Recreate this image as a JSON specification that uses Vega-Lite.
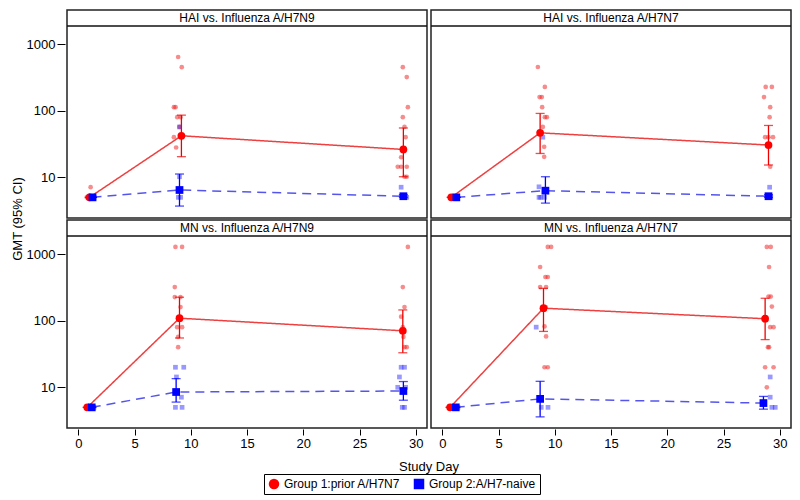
{
  "$schema": "https://vega.github.io/schema/vega-lite/v6.json",
  "padding": {"left": 11, "top": 9, "right": 5, "bottom": 5},
  "background": "white",
  "data": {"values": [
    {"assay":"HAI","strain":"H7N9","kind":"title","label":"HAI vs. Influenza A/H7N9"},
    {"assay":"HAI","strain":"H7N7","kind":"title","label":"HAI vs. Influenza A/H7N7"},
    {"assay":"MN","strain":"H7N9","kind":"title","label":"MN vs. Influenza A/H7N9"},
    {"assay":"MN","strain":"H7N7","kind":"title","label":"MN vs. Influenza A/H7N7"},

    {"assay":"HAI","strain":"H7N9","kind":"gmt","group":"Group 1:prior A/H7N7","day":1.0,"value":5,"lo":5,"hi":5},
    {"assay":"HAI","strain":"H7N9","kind":"gmt","group":"Group 1:prior A/H7N7","day":9.17,"value":42,"lo":20.4,"hi":85.7},
    {"assay":"HAI","strain":"H7N9","kind":"gmt","group":"Group 1:prior A/H7N7","day":28.9,"value":26.2,"lo":10.2,"hi":55},
    {"assay":"HAI","strain":"H7N9","kind":"gmt","group":"Group 2:A/H7-naive","day":1.27,"value":5,"lo":5,"hi":5},
    {"assay":"HAI","strain":"H7N9","kind":"gmt","group":"Group 2:A/H7-naive","day":9.0,"value":6.45,"lo":3.7,"hi":11.2},
    {"assay":"HAI","strain":"H7N9","kind":"gmt","group":"Group 2:A/H7-naive","day":28.9,"value":5.2,"lo":5,"hi":5.5},

    {"assay":"HAI","strain":"H7N7","kind":"gmt","group":"Group 1:prior A/H7N7","day":0.8,"value":5,"lo":5,"hi":5},
    {"assay":"HAI","strain":"H7N7","kind":"gmt","group":"Group 1:prior A/H7N7","day":8.7,"value":46.5,"lo":22.8,"hi":91},
    {"assay":"HAI","strain":"H7N7","kind":"gmt","group":"Group 1:prior A/H7N7","day":29.0,"value":30.5,"lo":15.3,"hi":60},
    {"assay":"HAI","strain":"H7N7","kind":"gmt","group":"Group 2:A/H7-naive","day":1.25,"value":5,"lo":5,"hi":5},
    {"assay":"HAI","strain":"H7N7","kind":"gmt","group":"Group 2:A/H7-naive","day":9.17,"value":6.3,"lo":4.1,"hi":10.2},
    {"assay":"HAI","strain":"H7N7","kind":"gmt","group":"Group 2:A/H7-naive","day":29.0,"value":5.2,"lo":5,"hi":5.5},

    {"assay":"MN","strain":"H7N9","kind":"gmt","group":"Group 1:prior A/H7N7","day":0.8,"value":5,"lo":5,"hi":5},
    {"assay":"MN","strain":"H7N9","kind":"gmt","group":"Group 1:prior A/H7N7","day":9.0,"value":109,"lo":55,"hi":225},
    {"assay":"MN","strain":"H7N9","kind":"gmt","group":"Group 1:prior A/H7N7","day":28.85,"value":70.5,"lo":33,"hi":145},
    {"assay":"MN","strain":"H7N9","kind":"gmt","group":"Group 2:A/H7-naive","day":1.2,"value":5,"lo":5,"hi":5},
    {"assay":"MN","strain":"H7N9","kind":"gmt","group":"Group 2:A/H7-naive","day":8.7,"value":8.5,"lo":6.0,"hi":13.5},
    {"assay":"MN","strain":"H7N9","kind":"gmt","group":"Group 2:A/H7-naive","day":28.9,"value":8.8,"lo":6.4,"hi":12.2},

    {"assay":"MN","strain":"H7N7","kind":"gmt","group":"Group 1:prior A/H7N7","day":0.7,"value":5,"lo":5,"hi":5},
    {"assay":"MN","strain":"H7N7","kind":"gmt","group":"Group 1:prior A/H7N7","day":9.0,"value":154,"lo":69,"hi":306},
    {"assay":"MN","strain":"H7N7","kind":"gmt","group":"Group 1:prior A/H7N7","day":28.7,"value":107,"lo":52,"hi":217},
    {"assay":"MN","strain":"H7N7","kind":"gmt","group":"Group 2:A/H7-naive","day":1.2,"value":5,"lo":5,"hi":5},
    {"assay":"MN","strain":"H7N7","kind":"gmt","group":"Group 2:A/H7-naive","day":8.7,"value":6.7,"lo":3.6,"hi":12.3},
    {"assay":"MN","strain":"H7N7","kind":"gmt","group":"Group 2:A/H7-naive","day":28.55,"value":5.8,"lo":4.7,"hi":7.3},

    {"assay":"HAI","strain":"H7N9","kind":"ind","group":"Group 1:prior A/H7N7","day":0.75,"value":5},
    {"assay":"HAI","strain":"H7N9","kind":"ind","group":"Group 1:prior A/H7N7","day":1.1,"value":7.1},
    {"assay":"HAI","strain":"H7N9","kind":"ind","group":"Group 1:prior A/H7N7","day":8.88,"value":640},
    {"assay":"HAI","strain":"H7N9","kind":"ind","group":"Group 1:prior A/H7N7","day":9.2,"value":450},
    {"assay":"HAI","strain":"H7N9","kind":"ind","group":"Group 1:prior A/H7N7","day":8.5,"value":113},
    {"assay":"HAI","strain":"H7N9","kind":"ind","group":"Group 1:prior A/H7N7","day":8.65,"value":113},
    {"assay":"HAI","strain":"H7N9","kind":"ind","group":"Group 1:prior A/H7N7","day":8.8,"value":80},
    {"assay":"HAI","strain":"H7N9","kind":"ind","group":"Group 1:prior A/H7N7","day":9.1,"value":80},
    {"assay":"HAI","strain":"H7N9","kind":"ind","group":"Group 1:prior A/H7N7","day":9.0,"value":57},
    {"assay":"HAI","strain":"H7N9","kind":"ind","group":"Group 1:prior A/H7N7","day":8.5,"value":40},
    {"assay":"HAI","strain":"H7N9","kind":"ind","group":"Group 1:prior A/H7N7","day":8.7,"value":28},
    {"assay":"HAI","strain":"H7N9","kind":"ind","group":"Group 1:prior A/H7N7","day":28.85,"value":450},
    {"assay":"HAI","strain":"H7N9","kind":"ind","group":"Group 1:prior A/H7N7","day":29.2,"value":320},
    {"assay":"HAI","strain":"H7N9","kind":"ind","group":"Group 1:prior A/H7N7","day":29.3,"value":113},
    {"assay":"HAI","strain":"H7N9","kind":"ind","group":"Group 1:prior A/H7N7","day":28.85,"value":80},
    {"assay":"HAI","strain":"H7N9","kind":"ind","group":"Group 1:prior A/H7N7","day":29.0,"value":57},
    {"assay":"HAI","strain":"H7N9","kind":"ind","group":"Group 1:prior A/H7N7","day":29.1,"value":40},
    {"assay":"HAI","strain":"H7N9","kind":"ind","group":"Group 1:prior A/H7N7","day":28.7,"value":20},
    {"assay":"HAI","strain":"H7N9","kind":"ind","group":"Group 1:prior A/H7N7","day":28.4,"value":14.4},
    {"assay":"HAI","strain":"H7N9","kind":"ind","group":"Group 1:prior A/H7N7","day":28.7,"value":14.4},
    {"assay":"HAI","strain":"H7N9","kind":"ind","group":"Group 1:prior A/H7N7","day":29.2,"value":14.4},
    {"assay":"HAI","strain":"H7N9","kind":"ind","group":"Group 1:prior A/H7N7","day":29.0,"value":10.2},
    {"assay":"HAI","strain":"H7N9","kind":"ind","group":"Group 1:prior A/H7N7","day":29.2,"value":10.2},
    {"assay":"HAI","strain":"H7N9","kind":"ind","group":"Group 2:A/H7-naive","day":1.0,"value":5},
    {"assay":"HAI","strain":"H7N9","kind":"ind","group":"Group 2:A/H7-naive","day":1.4,"value":5},
    {"assay":"HAI","strain":"H7N9","kind":"ind","group":"Group 2:A/H7-naive","day":8.9,"value":5},
    {"assay":"HAI","strain":"H7N9","kind":"ind","group":"Group 2:A/H7-naive","day":9.1,"value":5},
    {"assay":"HAI","strain":"H7N9","kind":"ind","group":"Group 2:A/H7-naive","day":9.0,"value":10.2},
    {"assay":"HAI","strain":"H7N9","kind":"ind","group":"Group 2:A/H7-naive","day":9.0,"value":57},
    {"assay":"HAI","strain":"H7N9","kind":"ind","group":"Group 2:A/H7-naive","day":28.7,"value":7.1},
    {"assay":"HAI","strain":"H7N9","kind":"ind","group":"Group 2:A/H7-naive","day":29.2,"value":5},
    {"assay":"HAI","strain":"H7N9","kind":"ind","group":"Group 2:A/H7-naive","day":28.8,"value":5},

    {"assay":"HAI","strain":"H7N7","kind":"ind","group":"Group 1:prior A/H7N7","day":0.7,"value":5},
    {"assay":"HAI","strain":"H7N7","kind":"ind","group":"Group 1:prior A/H7N7","day":8.5,"value":453},
    {"assay":"HAI","strain":"H7N7","kind":"ind","group":"Group 1:prior A/H7N7","day":9.12,"value":227},
    {"assay":"HAI","strain":"H7N7","kind":"ind","group":"Group 1:prior A/H7N7","day":8.65,"value":160},
    {"assay":"HAI","strain":"H7N7","kind":"ind","group":"Group 1:prior A/H7N7","day":8.85,"value":160},
    {"assay":"HAI","strain":"H7N7","kind":"ind","group":"Group 1:prior A/H7N7","day":8.88,"value":113},
    {"assay":"HAI","strain":"H7N7","kind":"ind","group":"Group 1:prior A/H7N7","day":9.12,"value":80},
    {"assay":"HAI","strain":"H7N7","kind":"ind","group":"Group 1:prior A/H7N7","day":9.3,"value":80},
    {"assay":"HAI","strain":"H7N7","kind":"ind","group":"Group 1:prior A/H7N7","day":8.94,"value":57},
    {"assay":"HAI","strain":"H7N7","kind":"ind","group":"Group 1:prior A/H7N7","day":9.06,"value":28.7},
    {"assay":"HAI","strain":"H7N7","kind":"ind","group":"Group 1:prior A/H7N7","day":9.06,"value":20.3},
    {"assay":"HAI","strain":"H7N7","kind":"ind","group":"Group 1:prior A/H7N7","day":28.75,"value":227},
    {"assay":"HAI","strain":"H7N7","kind":"ind","group":"Group 1:prior A/H7N7","day":29.3,"value":227},
    {"assay":"HAI","strain":"H7N7","kind":"ind","group":"Group 1:prior A/H7N7","day":28.6,"value":160},
    {"assay":"HAI","strain":"H7N7","kind":"ind","group":"Group 1:prior A/H7N7","day":29.15,"value":113},
    {"assay":"HAI","strain":"H7N7","kind":"ind","group":"Group 1:prior A/H7N7","day":29.1,"value":80},
    {"assay":"HAI","strain":"H7N7","kind":"ind","group":"Group 1:prior A/H7N7","day":28.7,"value":40},
    {"assay":"HAI","strain":"H7N7","kind":"ind","group":"Group 1:prior A/H7N7","day":29.0,"value":40},
    {"assay":"HAI","strain":"H7N7","kind":"ind","group":"Group 1:prior A/H7N7","day":29.4,"value":40},
    {"assay":"HAI","strain":"H7N7","kind":"ind","group":"Group 1:prior A/H7N7","day":29.15,"value":14.4},
    {"assay":"HAI","strain":"H7N7","kind":"ind","group":"Group 2:A/H7-naive","day":1.1,"value":5},
    {"assay":"HAI","strain":"H7N7","kind":"ind","group":"Group 2:A/H7-naive","day":8.6,"value":7.2},
    {"assay":"HAI","strain":"H7N7","kind":"ind","group":"Group 2:A/H7-naive","day":8.94,"value":40},
    {"assay":"HAI","strain":"H7N7","kind":"ind","group":"Group 2:A/H7-naive","day":8.6,"value":5},
    {"assay":"HAI","strain":"H7N7","kind":"ind","group":"Group 2:A/H7-naive","day":8.75,"value":5},
    {"assay":"HAI","strain":"H7N7","kind":"ind","group":"Group 2:A/H7-naive","day":9.1,"value":5},
    {"assay":"HAI","strain":"H7N7","kind":"ind","group":"Group 2:A/H7-naive","day":29.1,"value":7.1},
    {"assay":"HAI","strain":"H7N7","kind":"ind","group":"Group 2:A/H7-naive","day":29.2,"value":5},
    {"assay":"HAI","strain":"H7N7","kind":"ind","group":"Group 2:A/H7-naive","day":28.9,"value":5},

    {"assay":"MN","strain":"H7N9","kind":"ind","group":"Group 1:prior A/H7N7","day":0.7,"value":5},
    {"assay":"MN","strain":"H7N9","kind":"ind","group":"Group 1:prior A/H7N7","day":8.64,"value":1280},
    {"assay":"MN","strain":"H7N9","kind":"ind","group":"Group 1:prior A/H7N7","day":9.23,"value":1280},
    {"assay":"MN","strain":"H7N9","kind":"ind","group":"Group 1:prior A/H7N7","day":8.58,"value":320},
    {"assay":"MN","strain":"H7N9","kind":"ind","group":"Group 1:prior A/H7N7","day":8.58,"value":226},
    {"assay":"MN","strain":"H7N9","kind":"ind","group":"Group 1:prior A/H7N7","day":9.09,"value":226},
    {"assay":"MN","strain":"H7N9","kind":"ind","group":"Group 1:prior A/H7N7","day":9.09,"value":160},
    {"assay":"MN","strain":"H7N9","kind":"ind","group":"Group 1:prior A/H7N7","day":8.79,"value":80},
    {"assay":"MN","strain":"H7N9","kind":"ind","group":"Group 1:prior A/H7N7","day":9.23,"value":80},
    {"assay":"MN","strain":"H7N9","kind":"ind","group":"Group 1:prior A/H7N7","day":8.88,"value":57},
    {"assay":"MN","strain":"H7N9","kind":"ind","group":"Group 1:prior A/H7N7","day":8.88,"value":40},
    {"assay":"MN","strain":"H7N9","kind":"ind","group":"Group 1:prior A/H7N7","day":29.3,"value":1280},
    {"assay":"MN","strain":"H7N9","kind":"ind","group":"Group 1:prior A/H7N7","day":28.85,"value":320},
    {"assay":"MN","strain":"H7N9","kind":"ind","group":"Group 1:prior A/H7N7","day":29.0,"value":160},
    {"assay":"MN","strain":"H7N9","kind":"ind","group":"Group 1:prior A/H7N7","day":28.7,"value":115},
    {"assay":"MN","strain":"H7N9","kind":"ind","group":"Group 1:prior A/H7N7","day":28.85,"value":80},
    {"assay":"MN","strain":"H7N9","kind":"ind","group":"Group 1:prior A/H7N7","day":28.9,"value":57},
    {"assay":"MN","strain":"H7N9","kind":"ind","group":"Group 1:prior A/H7N7","day":29.0,"value":40},
    {"assay":"MN","strain":"H7N9","kind":"ind","group":"Group 1:prior A/H7N7","day":29.2,"value":40},
    {"assay":"MN","strain":"H7N9","kind":"ind","group":"Group 2:A/H7-naive","day":1.0,"value":5},
    {"assay":"MN","strain":"H7N9","kind":"ind","group":"Group 2:A/H7-naive","day":1.4,"value":5},
    {"assay":"MN","strain":"H7N9","kind":"ind","group":"Group 2:A/H7-naive","day":8.64,"value":20},
    {"assay":"MN","strain":"H7N9","kind":"ind","group":"Group 2:A/H7-naive","day":9.38,"value":20},
    {"assay":"MN","strain":"H7N9","kind":"ind","group":"Group 2:A/H7-naive","day":8.73,"value":14.3},
    {"assay":"MN","strain":"H7N9","kind":"ind","group":"Group 2:A/H7-naive","day":9.17,"value":7.1},
    {"assay":"MN","strain":"H7N9","kind":"ind","group":"Group 2:A/H7-naive","day":8.64,"value":5},
    {"assay":"MN","strain":"H7N9","kind":"ind","group":"Group 2:A/H7-naive","day":9.23,"value":5},
    {"assay":"MN","strain":"H7N9","kind":"ind","group":"Group 2:A/H7-naive","day":28.7,"value":20},
    {"assay":"MN","strain":"H7N9","kind":"ind","group":"Group 2:A/H7-naive","day":29.0,"value":20},
    {"assay":"MN","strain":"H7N9","kind":"ind","group":"Group 2:A/H7-naive","day":28.55,"value":14.3},
    {"assay":"MN","strain":"H7N9","kind":"ind","group":"Group 2:A/H7-naive","day":28.4,"value":10},
    {"assay":"MN","strain":"H7N9","kind":"ind","group":"Group 2:A/H7-naive","day":29.1,"value":10},
    {"assay":"MN","strain":"H7N9","kind":"ind","group":"Group 2:A/H7-naive","day":29.0,"value":5},
    {"assay":"MN","strain":"H7N9","kind":"ind","group":"Group 2:A/H7-naive","day":28.8,"value":5},

    {"assay":"MN","strain":"H7N7","kind":"ind","group":"Group 1:prior A/H7N7","day":0.6,"value":5},
    {"assay":"MN","strain":"H7N7","kind":"ind","group":"Group 1:prior A/H7N7","day":9.38,"value":1280},
    {"assay":"MN","strain":"H7N7","kind":"ind","group":"Group 1:prior A/H7N7","day":9.68,"value":1280},
    {"assay":"MN","strain":"H7N7","kind":"ind","group":"Group 1:prior A/H7N7","day":8.7,"value":640},
    {"assay":"MN","strain":"H7N7","kind":"ind","group":"Group 1:prior A/H7N7","day":9.17,"value":453},
    {"assay":"MN","strain":"H7N7","kind":"ind","group":"Group 1:prior A/H7N7","day":9.38,"value":453},
    {"assay":"MN","strain":"H7N7","kind":"ind","group":"Group 1:prior A/H7N7","day":8.7,"value":320},
    {"assay":"MN","strain":"H7N7","kind":"ind","group":"Group 1:prior A/H7N7","day":9.23,"value":320},
    {"assay":"MN","strain":"H7N7","kind":"ind","group":"Group 1:prior A/H7N7","day":9.2,"value":160},
    {"assay":"MN","strain":"H7N7","kind":"ind","group":"Group 1:prior A/H7N7","day":9.09,"value":82},
    {"assay":"MN","strain":"H7N7","kind":"ind","group":"Group 1:prior A/H7N7","day":9.23,"value":58},
    {"assay":"MN","strain":"H7N7","kind":"ind","group":"Group 1:prior A/H7N7","day":9.09,"value":20},
    {"assay":"MN","strain":"H7N7","kind":"ind","group":"Group 1:prior A/H7N7","day":9.38,"value":20},
    {"assay":"MN","strain":"H7N7","kind":"ind","group":"Group 1:prior A/H7N7","day":28.85,"value":1280},
    {"assay":"MN","strain":"H7N7","kind":"ind","group":"Group 1:prior A/H7N7","day":29.2,"value":1280},
    {"assay":"MN","strain":"H7N7","kind":"ind","group":"Group 1:prior A/H7N7","day":29.05,"value":640},
    {"assay":"MN","strain":"H7N7","kind":"ind","group":"Group 1:prior A/H7N7","day":29.0,"value":230},
    {"assay":"MN","strain":"H7N7","kind":"ind","group":"Group 1:prior A/H7N7","day":29.2,"value":230},
    {"assay":"MN","strain":"H7N7","kind":"ind","group":"Group 1:prior A/H7N7","day":29.3,"value":163},
    {"assay":"MN","strain":"H7N7","kind":"ind","group":"Group 1:prior A/H7N7","day":29.15,"value":80},
    {"assay":"MN","strain":"H7N7","kind":"ind","group":"Group 1:prior A/H7N7","day":29.45,"value":80},
    {"assay":"MN","strain":"H7N7","kind":"ind","group":"Group 1:prior A/H7N7","day":28.95,"value":40},
    {"assay":"MN","strain":"H7N7","kind":"ind","group":"Group 1:prior A/H7N7","day":29.05,"value":40},
    {"assay":"MN","strain":"H7N7","kind":"ind","group":"Group 1:prior A/H7N7","day":28.7,"value":20},
    {"assay":"MN","strain":"H7N7","kind":"ind","group":"Group 1:prior A/H7N7","day":29.45,"value":20},
    {"assay":"MN","strain":"H7N7","kind":"ind","group":"Group 1:prior A/H7N7","day":28.85,"value":10},
    {"assay":"MN","strain":"H7N7","kind":"ind","group":"Group 2:A/H7-naive","day":1.0,"value":5},
    {"assay":"MN","strain":"H7N7","kind":"ind","group":"Group 2:A/H7-naive","day":1.4,"value":5},
    {"assay":"MN","strain":"H7N7","kind":"ind","group":"Group 2:A/H7-naive","day":8.35,"value":80},
    {"assay":"MN","strain":"H7N7","kind":"ind","group":"Group 2:A/H7-naive","day":8.8,"value":5},
    {"assay":"MN","strain":"H7N7","kind":"ind","group":"Group 2:A/H7-naive","day":9.4,"value":5},
    {"assay":"MN","strain":"H7N7","kind":"ind","group":"Group 2:A/H7-naive","day":29.15,"value":14.3},
    {"assay":"MN","strain":"H7N7","kind":"ind","group":"Group 2:A/H7-naive","day":29.15,"value":7.1},
    {"assay":"MN","strain":"H7N7","kind":"ind","group":"Group 2:A/H7-naive","day":29.3,"value":5},
    {"assay":"MN","strain":"H7N7","kind":"ind","group":"Group 2:A/H7-naive","day":29.6,"value":5}
  ]},
  "facet": {
    "row": {"field": "assay", "type": "nominal", "title": "GMT (95% CI)",
      "header": {"labels": false, "titleFontSize": 13, "titleFontWeight": "normal", "titleColor": "#000", "titleFont": "Liberation Sans", "titlePadding": -9}},
    "column": {"field": "strain", "type": "nominal", "sort": ["H7N9", "H7N7"], "title": "Study Day",
      "header": {"labels": false, "titleOrient": "bottom", "titleFontSize": 13, "titleFontWeight": "normal", "titleColor": "#000", "titleFont": "Liberation Sans", "titlePadding": 1}}
  },
  "spacing": {"row": 0, "column": 0},
  "spec": {
    "width": 360,
    "height": 208,
    "layer": [
      {
        "transform": [{"filter": "datum.kind === 'title'"}],
        "mark": {"type": "rule", "color": "#111", "strokeWidth": 1.5},
        "encoding": {
          "y": {"datum": 1870, "type": "quantitative", "title": null, "scale": {"type": "log", "domain": [2.45, 3246], "nice": false}}
        }
      },
      {
        "transform": [{"filter": "datum.kind === 'title'"}],
        "mark": {"type": "text", "fontSize": 12, "font": "Liberation Sans", "baseline": "middle", "color": "#000"},
        "encoding": {
          "y": {"datum": 2464, "type": "quantitative", "title": null, "scale": {"type": "log", "domain": [2.45, 3246], "nice": false}},
          "text": {"field": "label", "type": "nominal"}
        }
      },
      {
        "transform": [{"filter": "datum.kind === 'ind' && datum.group === 'Group 1:prior A/H7N7'"}],
        "mark": {"type": "point", "shape": "circle", "filled": true, "size": 22, "opacity": 0.5, "color": "#f01a1a"},
        "encoding": {
          "x": {"field": "day", "type": "quantitative", "title": null, "scale": {"domain": [-1, 31], "nice": false, "zero": false}},
          "y": {"field": "value", "type": "quantitative", "title": null, "scale": {"type": "log", "domain": [2.45, 3246], "nice": false}}
        }
      },
      {
        "transform": [{"filter": "datum.kind === 'ind' && datum.group === 'Group 2:A/H7-naive'"}],
        "mark": {"type": "point", "shape": "square", "filled": true, "size": 22, "opacity": 0.45, "color": "#1a1aff"},
        "encoding": {
          "x": {"field": "day", "type": "quantitative", "title": null, "scale": {"domain": [-1, 31], "nice": false, "zero": false}},
          "y": {"field": "value", "type": "quantitative", "title": null, "scale": {"type": "log", "domain": [2.45, 3246], "nice": false}}
        }
      },
      {
        "transform": [{"filter": "datum.kind === 'gmt'"}],
        "mark": {"type": "line", "strokeWidth": 1.5, "opacity": 0.8},
        "encoding": {
          "x": {"field": "day", "type": "quantitative", "title": null, "scale": {"domain": [-1, 31], "nice": false, "zero": false}},
          "y": {"field": "value", "type": "quantitative", "title": null, "scale": {"type": "log", "domain": [2.45, 3246], "nice": false}},
          "detail": {"field": "group", "type": "nominal"},
          "stroke": {"condition": {"test": "datum.group === 'Group 1:prior A/H7N7'", "value": "#e81010"}, "value": "#2a2ae8"},
          "strokeDash": {"condition": {"test": "datum.group === 'Group 1:prior A/H7N7'", "value": [1, 0]}, "value": [9, 6]}
        }
      },
      {
        "transform": [{"filter": "datum.kind === 'gmt'"}],
        "mark": {"type": "rule", "strokeWidth": 1.3},
        "encoding": {
          "x": {"field": "day", "type": "quantitative", "title": null, "scale": {"domain": [-1, 31], "nice": false, "zero": false}},
          "y": {"field": "lo", "type": "quantitative", "title": null, "scale": {"type": "log", "domain": [2.45, 3246], "nice": false}},
          "y2": {"field": "hi"},
          "stroke": {"condition": {"test": "datum.group === 'Group 1:prior A/H7N7'", "value": "#ee0000"}, "value": "#0000ff"}
        }
      },
      {
        "transform": [{"filter": "datum.kind === 'gmt'"}],
        "mark": {"type": "tick", "orient": "horizontal", "size": 9, "thickness": 1.3},
        "encoding": {
          "x": {"field": "day", "type": "quantitative", "title": null, "scale": {"domain": [-1, 31], "nice": false, "zero": false}},
          "y": {"field": "lo", "type": "quantitative", "title": null, "scale": {"type": "log", "domain": [2.45, 3246], "nice": false}},
          "fill": {"condition": {"test": "datum.group === 'Group 1:prior A/H7N7'", "value": "#ee0000"}, "value": "#0000ff"}
        }
      },
      {
        "transform": [{"filter": "datum.kind === 'gmt'"}],
        "mark": {"type": "tick", "orient": "horizontal", "size": 9, "thickness": 1.3},
        "encoding": {
          "x": {"field": "day", "type": "quantitative", "title": null, "scale": {"domain": [-1, 31], "nice": false, "zero": false}},
          "y": {"field": "hi", "type": "quantitative", "title": null, "scale": {"type": "log", "domain": [2.45, 3246], "nice": false}},
          "fill": {"condition": {"test": "datum.group === 'Group 1:prior A/H7N7'", "value": "#ee0000"}, "value": "#0000ff"}
        }
      },
      {
        "transform": [{"filter": "datum.kind === 'gmt'"}],
        "mark": {"type": "point", "filled": true, "size": 60, "opacity": 1},
        "encoding": {
          "x": {"field": "day", "type": "quantitative", "title": null, "scale": {"domain": [-1, 31], "nice": false, "zero": false},
            "axis": {"values": [0, 5, 10, 15, 20, 25, 30], "title": null, "domain": false, "grid": false, "tickSize": 6, "labelPadding": 2, "labelFontSize": 13, "labelFont": "Liberation Sans", "labelColor": "#000", "tickColor": "#000"}},
          "y": {"field": "value", "type": "quantitative", "title": null, "scale": {"type": "log", "domain": [2.45, 3246], "nice": false},
            "axis": {"values": [10, 100, 1000], "format": "d", "title": null, "domain": false, "grid": false, "tickSize": 8, "labelPadding": 2, "labelFontSize": 13, "labelFont": "Liberation Sans", "labelColor": "#000", "tickColor": "#000"}},
          "color": {"field": "group", "type": "nominal", "scale": {"domain": ["Group 1:prior A/H7N7", "Group 2:A/H7-naive"], "range": ["#ff0000", "#0000ff"]},
            "legend": {"title": null, "orient": "bottom", "direction": "horizontal", "strokeColor": "#000", "padding": 4, "labelFontSize": 12, "labelFont": "Liberation Sans", "labelColor": "#000", "symbolSize": 110, "columnPadding": 12, "offset": 0, "symbolStrokeWidth": 0}},
          "shape": {"field": "group", "type": "nominal", "scale": {"domain": ["Group 1:prior A/H7N7", "Group 2:A/H7-naive"], "range": ["circle", "square"]},
            "legend": {"title": null, "orient": "bottom", "direction": "horizontal"}}
        }
      }
    ]
  },
  "config": {
    "font": "Liberation Sans",
    "view": {"stroke": "#222", "strokeWidth": 1.5},
    "axis": {"domain": false, "grid": false},
    "legend": {"layout": {"bottom": {"anchor": "middle"}}}
  }
}
